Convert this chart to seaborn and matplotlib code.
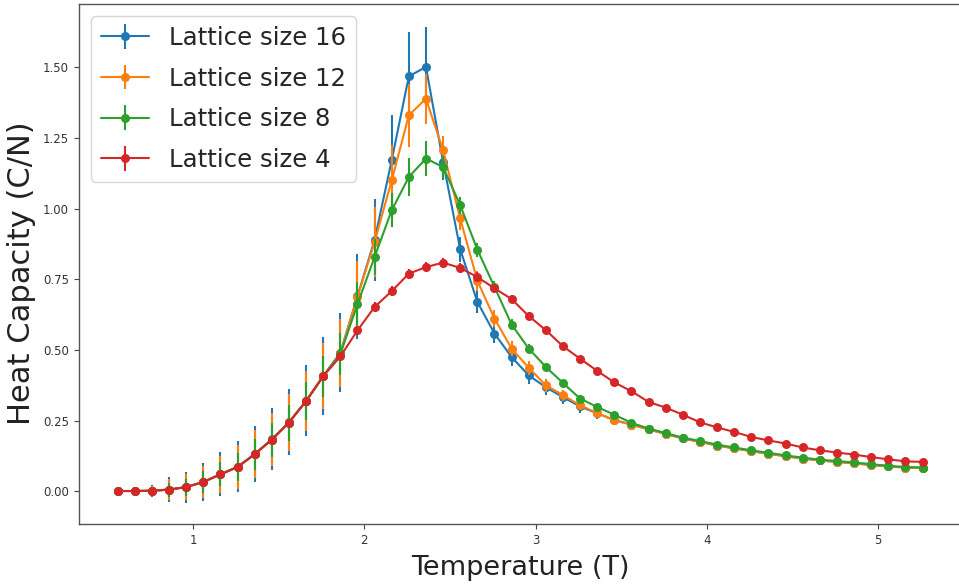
import numpy as np
import pandas as pd
import matplotlib
matplotlib.use("Agg")
import matplotlib.pyplot as plt
import seaborn as sns
from matplotlib.legend_handler import HandlerTuple

# ---------------- data ----------------
temperature = [0.56, 0.66, 0.76, 0.86, 0.96, 1.06, 1.16, 1.26, 1.36, 1.46,
               1.56, 1.66, 1.76, 1.86, 1.96, 2.06, 2.16, 2.26, 2.36, 2.46,
               2.56, 2.66, 2.76, 2.86, 2.96, 3.06, 3.16, 3.26, 3.36, 3.46,
               3.56, 3.66, 3.76, 3.86, 3.96, 4.06, 4.16, 4.26, 4.36, 4.46,
               4.56, 4.66, 4.76, 4.86, 4.96, 5.06, 5.16, 5.26]

labels = ["Lattice size 16", "Lattice size 12", "Lattice size 8", "Lattice size 4"]

heat_16 = [0.001, 0.001, 0.002, 0.006, 0.015, 0.033, 0.060, 0.087, 0.132, 0.184,
           0.245, 0.320, 0.408, 0.490, 0.690, 0.889, 1.171, 1.468, 1.501, 1.165,
           0.856, 0.670, 0.558, 0.475, 0.410, 0.368, 0.333, 0.300, 0.276, 0.252,
           0.236, 0.219, 0.203, 0.187, 0.175, 0.162, 0.152, 0.142, 0.133, 0.124,
           0.116, 0.109, 0.104, 0.099, 0.093, 0.088, 0.084, 0.082]
err_16 = [0.004, 0.008, 0.022, 0.045, 0.055, 0.068, 0.078, 0.090, 0.100, 0.110,
          0.118, 0.126, 0.137, 0.140, 0.150, 0.145, 0.160, 0.157, 0.140, 0.065,
          0.045, 0.040, 0.035, 0.032, 0.030, 0.028, 0.025, 0.022, 0.020, 0.018,
          0.016, 0.014, 0.012, 0.010, 0.009, 0.008, 0.007, 0.006, 0.006, 0.005,
          0.005, 0.004, 0.004, 0.004, 0.003, 0.003, 0.003, 0.003]

heat_12 = [0.001, 0.001, 0.002, 0.006, 0.015, 0.033, 0.060, 0.086, 0.131, 0.183,
           0.244, 0.319, 0.407, 0.488, 0.688, 0.882, 1.100, 1.330, 1.389, 1.206,
           0.965, 0.745, 0.611, 0.505, 0.437, 0.375, 0.340, 0.304, 0.277, 0.251,
           0.236, 0.219, 0.203, 0.187, 0.175, 0.162, 0.152, 0.142, 0.133, 0.124,
           0.116, 0.109, 0.104, 0.099, 0.093, 0.088, 0.084, 0.082]
err_12 = [0.003, 0.007, 0.018, 0.038, 0.047, 0.058, 0.066, 0.077, 0.085, 0.094,
          0.100, 0.107, 0.116, 0.120, 0.128, 0.125, 0.125, 0.112, 0.088, 0.050,
          0.040, 0.035, 0.030, 0.026, 0.024, 0.022, 0.020, 0.018, 0.016, 0.014,
          0.012, 0.011, 0.010, 0.009, 0.008, 0.007, 0.006, 0.005, 0.005, 0.004,
          0.004, 0.004, 0.003, 0.003, 0.003, 0.003, 0.002, 0.002]

heat_8 = [0.001, 0.001, 0.002, 0.006, 0.015, 0.033, 0.060, 0.086, 0.131, 0.183,
          0.243, 0.319, 0.407, 0.485, 0.662, 0.829, 0.994, 1.112, 1.177, 1.147,
          1.012, 0.855, 0.723, 0.590, 0.505, 0.440, 0.383, 0.328, 0.298, 0.271,
          0.242, 0.222, 0.206, 0.190, 0.178, 0.165, 0.155, 0.145, 0.136, 0.127,
          0.119, 0.112, 0.107, 0.102, 0.096, 0.090, 0.086, 0.084]
err_8 = [0.002, 0.004, 0.012, 0.025, 0.030, 0.038, 0.043, 0.050, 0.055, 0.060,
         0.064, 0.068, 0.072, 0.075, 0.078, 0.065, 0.060, 0.068, 0.062, 0.040,
         0.030, 0.025, 0.020, 0.018, 0.016, 0.014, 0.012, 0.011, 0.010, 0.009,
         0.008, 0.007, 0.006, 0.005, 0.005, 0.004, 0.004, 0.003, 0.003, 0.003,
         0.003, 0.002, 0.002, 0.002, 0.002, 0.002, 0.002, 0.002]

heat_4 = [0.001, 0.001, 0.002, 0.006, 0.015, 0.033, 0.060, 0.086, 0.131, 0.183,
          0.243, 0.319, 0.407, 0.477, 0.569, 0.652, 0.708, 0.770, 0.793, 0.809,
          0.790, 0.758, 0.718, 0.680, 0.620, 0.570, 0.513, 0.469, 0.426, 0.385,
          0.354, 0.316, 0.296, 0.271, 0.244, 0.226, 0.210, 0.192, 0.180, 0.169,
          0.155, 0.145, 0.137, 0.130, 0.121, 0.113, 0.106, 0.104]
err_4 = [0.001, 0.001, 0.002, 0.004, 0.005, 0.006, 0.007, 0.008, 0.009, 0.010,
         0.011, 0.012, 0.013, 0.014, 0.015, 0.016, 0.017, 0.018, 0.018, 0.018,
         0.017, 0.016, 0.015, 0.014, 0.013, 0.012, 0.011, 0.010, 0.009, 0.008,
         0.008, 0.007, 0.007, 0.006, 0.006, 0.005, 0.005, 0.005, 0.004, 0.004,
         0.004, 0.004, 0.003, 0.003, 0.003, 0.003, 0.003, 0.003]

series = [(labels[0], heat_16, err_16),
          (labels[1], heat_12, err_12),
          (labels[2], heat_8, err_8),
          (labels[3], heat_4, err_4)]

# ---------------- style ----------------
sns.set_style("ticks")
plt.rcParams["font.family"] = ["DejaVu Sans"]
palette = sns.color_palette("tab10", 4)

W, H = 959, 584
fig = plt.figure(figsize=(W / 100, H / 100), dpi=100)
left_px, right_px, top_px, bottom_px = 78.5, 962.0, 4.0, 524.0
ax = fig.add_axes([left_px / W, (H - bottom_px) / H,
                   (right_px - left_px) / W, (bottom_px - top_px) / H])

handles = []
for k, (lab, heat, err) in enumerate(series):
    df = pd.DataFrame({"T": temperature, "C": heat, "err": err})
    base = 2 + 2 * k
    eb = ax.errorbar(df["T"], df["C"], yerr=df["err"], fmt="none",
                     ecolor=palette[k], elinewidth=1.5, zorder=base)
    sns.lineplot(data=df, x="T", y="C", color=palette[k], marker="o",
                 markersize=6.5, markeredgewidth=0, linewidth=1.5,
                 ax=ax, zorder=base + 1, legend=False)
    line = ax.lines[-1]
    handles.append((eb, line))

ax.set_xlim(0.331, 0.331 + (right_px - left_px) / 171.25)
y0 = 491.3
ax.set_ylim(-(bottom_px - y0) / 282.7, (y0 - top_px) / 282.7)
ax.set_xticks([1, 2, 3, 4, 5])
ax.set_yticks([0.0, 0.25, 0.5, 0.75, 1.0, 1.25, 1.5])
ax.set_yticklabels(["0.00", "0.25", "0.50", "0.75", "1.00", "1.25", "1.50"])
ax.tick_params(axis="both", labelsize=8.5, length=3.5, width=0.8,
               colors="#444444", labelcolor="#333333")
for sp in ax.spines.values():
    sp.set_color("#555555")
    sp.set_linewidth(1.0)

ax.set_xlabel("Temperature (T)", fontsize=19.5, color="#222222", labelpad=6)
ax.set_ylabel("Heat Capacity (C/N)", fontsize=22, color="#222222")
ax.yaxis.set_label_coords(-0.048, 0.483)

leg = ax.legend(handles, labels, loc="upper left", fontsize=17.6,
                labelspacing=0.68,
                handler_map={tuple: HandlerTuple(ndivide=1, pad=0)},
                frameon=True, fancybox=True, framealpha=0.8,
                edgecolor="#cccccc")

fig.savefig("out.png", dpi=100)
